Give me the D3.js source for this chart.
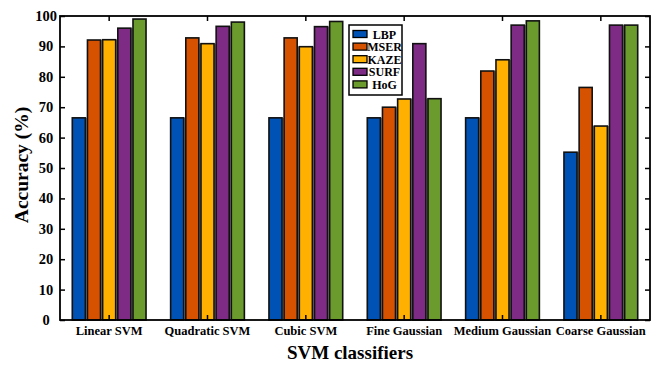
<!doctype html>
<html>
<head>
<meta charset="utf-8">
<script src="https://d3js.org/d3.v7.min.js"></script>
<style>
  body { margin: 0; background: #fff; }
  text { font-family: 'Liberation Serif', 'Times New Roman', serif; font-weight: bold; fill: #000; }
</style>
</head>
<body>
<div id="graph"></div>
<script>
const classifiers = ['Linear SVM', 'Quadratic SVM', 'Cubic SVM', 'Fine Gaussian', 'Medium Gaussian', 'Coarse Gaussian'];
const features = ['LBP', 'MSER', 'KAZE', 'SURF', 'HoG'];
const lbp  = [66.5, 66.5, 66.5, 66.5, 66.5, 55.2];
const mser = [92.1, 92.8, 92.8, 70.0, 81.9, 76.5];
const kaze = [92.2, 90.9, 89.9, 72.7, 85.6, 63.8];
const surf = [96.0, 96.6, 96.5, 90.9, 97.0, 97.0];
const hog  = [99.0, 98.0, 98.2, 72.8, 98.4, 97.0];
const yTicks = [0, 10, 20, 30, 40, 50, 60, 70, 80, 90, 100];
const colors = ['#0052b4', '#d75200', '#ffb000', '#7e2b85', '#6b9b2c'];

const series = [lbp, mser, kaze, surf, hog];
const rows = classifiers.map((c, i) => ({
  name: c,
  vals: features.map((f, j) => ({ key: f, value: series[j][i] }))
}));

const W = 662, H = 365;
const mLeft = 60, mRight = 650, mTop = 16, mBottom = 320;

const svg = d3.select('#graph').append('svg')
  .attr('width', W).attr('height', H);

const x0 = d3.scaleBand().domain(classifiers).range([mLeft, mRight])
  .paddingInner(0.25).paddingOuter(0.125);
const x1 = d3.scaleBand().domain(features).range([0, x0.bandwidth()])
  .paddingInner(0.14);
const y = d3.scaleLinear().domain([0, 100]).range([mBottom, mTop]);
const color = d3.scaleOrdinal().domain(features).range(colors);

// bars
const groups = svg.selectAll('.grp').data(rows).enter().append('g')
  .attr('transform', d => `translate(${x0(d.name)},0)`);

// grey filler between neighbouring bars
groups.selectAll('.gap').data(d => d.vals.slice(1).map((v, j) => ({
    a: d.vals[j].key, b: v.key, value: Math.min(v.value, d.vals[j].value)
  }))).enter().append('rect')
  .attr('x', d => x1(d.a) + x1.bandwidth())
  .attr('y', d => y(d.value))
  .attr('width', d => x1(d.b) - x1(d.a) - x1.bandwidth())
  .attr('height', d => y(0) - y(d.value))
  .attr('fill', '#8a8a8a');

groups.selectAll('.bar').data(d => d.vals).enter().append('rect')
  .attr('x', d => x1(d.key))
  .attr('y', d => y(d.value))
  .attr('width', x1.bandwidth())
  .attr('height', d => y(0) - y(d.value))
  .attr('fill', d => color(d.key))
  .attr('stroke', '#111')
  .attr('stroke-width', 1.6);

// axes, all ticks inward
const catCenter = c => x0(c) + x0.bandwidth() / 2;

svg.append('g').attr('transform', `translate(0,${mBottom})`)
  .call(d3.axisBottom(x0).tickSize(-5).tickFormat(''));
svg.append('g').attr('transform', `translate(0,${mTop})`)
  .call(d3.axisTop(x0).tickSize(-5).tickFormat(''));
svg.append('g').attr('transform', `translate(${mLeft},0)`)
  .call(d3.axisLeft(y).tickValues(yTicks).tickSize(-5).tickFormat(''));
svg.append('g').attr('transform', `translate(${mRight},0)`)
  .call(d3.axisRight(y).tickValues(yTicks).tickSize(-5).tickFormat(''));

svg.selectAll('.domain').remove();
svg.selectAll('.tick line').attr('stroke', '#000').attr('stroke-width', 1.5);

svg.append('rect')
  .attr('x', mLeft).attr('y', mTop)
  .attr('width', mRight - mLeft).attr('height', mBottom - mTop)
  .attr('fill', 'none').attr('stroke', '#000').attr('stroke-width', 1.8);

// tick labels
svg.append('g').selectAll('text').data(yTicks).enter().append('text')
  .attr('x', 46).attr('y', d => y(d) + 5)
  .attr('text-anchor', 'middle')
  .style('font-size', '14.5px')
  .text(d => d);

svg.append('g').selectAll('text').data(classifiers).enter().append('text')
  .attr('x', d => catCenter(d)).attr('y', 335)
  .attr('text-anchor', 'middle')
  .style('font-size', '12.5px')
  .text(d => d);

// axis titles
svg.append('text')
  .attr('transform', 'translate(28,165) rotate(-90)')
  .attr('text-anchor', 'middle')
  .style('font-size', '19.5px')
  .text('Accuracy (%)');

svg.append('text')
  .attr('x', 350).attr('y', 359)
  .attr('text-anchor', 'middle')
  .style('font-size', '19px')
  .text('SVM classifiers');

// legend
const legend = svg.append('g').attr('transform', 'translate(349,25)');
legend.append('rect')
  .attr('width', 53).attr('height', 70)
  .attr('fill', '#fff').attr('stroke', '#000').attr('stroke-width', 1.5);
const item = legend.selectAll('.item').data(features).enter().append('g')
  .attr('transform', (d, i) => `translate(0,${9 + i * 12.6})`);
item.append('rect')
  .attr('x', 4).attr('y', -3.5).attr('width', 14).attr('height', 7)
  .attr('fill', d => color(d)).attr('stroke', '#000').attr('stroke-width', 1.3);
item.append('text')
  .attr('x', 35.5).attr('y', 4.5)
  .attr('text-anchor', 'middle')
  .style('font-size', '12px')
  .text(d => d);
</script>
</body>
</html>
